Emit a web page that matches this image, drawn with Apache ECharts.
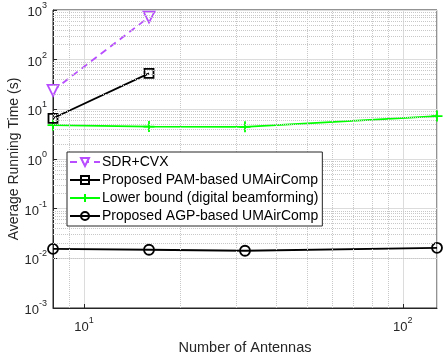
<!DOCTYPE html>
<html>
<head>
<meta charset="utf-8">
<script src="https://cdn.jsdelivr.net/npm/echarts@6/dist/echarts.min.js"></script>
<style>
  html, body { margin: 0; padding: 0; background: #fff; }
  #main { width: 443px; height: 354px; }
</style>
</head>
<body>
<div id="main"></div>
<script>
// values
var antennas = [8, 16, 32, 128];
var sdrCvx = [24, 720];
var pamAir = [6.6, 53];
var lowerBound = [4.8, 4.5, 4.45, 7.3];
var agpAir = [0.0155, 0.0149, 0.0142, 0.0163];

var names = ['SDR+CVX', 'Proposed PAM-based UMAirComp', 'Lower bound (digital beamforming)', 'Proposed AGP-based UMAirComp'];

// minor grid positions (2..9 per decade)
var yMinor = [];
for (var k = -3; k < 3; k++) {
    for (var m = 2; m <= 9; m++) yMinor.push(m * Math.pow(10, k));
}
var xMinor = [9, 20, 30, 40, 50, 60, 70, 80, 90];

function pairs(vals) {
    return vals.map(function (v, i) { return [antennas[i], v]; });
}
function pow10(v) {
    var e = Math.round(Math.log10(v));
    return '{b|10}{s|' + e + '}';
}
var richSup = {
    b: { fontSize: 13, color: '#262626', fontFamily: 'Liberation Sans', lineHeight: 18, verticalAlign: 'bottom' },
    s: { fontSize: 9, color: '#262626', fontFamily: 'Liberation Sans', lineHeight: 18, verticalAlign: 'top', padding: [0, 0, 6, 0] }
};

var plusPath = 'path://M0,5L10,5M5,0L5,10';
var minorLine = { type: 'dotted', color: '#c8c8c8', width: 1 };

var myChart = echarts.init(document.getElementById('main'));
var option = {
    animation: false,
    textStyle: { fontFamily: 'Liberation Sans' },
    grid: { left: 53, right: 6, top: 10, bottom: 46, show: true, borderColor: '#262626', borderWidth: 1, outerBoundsMode: 'none', containLabel: false },
    legend: {
        data: names,
        orient: 'vertical',
        left: 67,
        top: 152,
        z: 20,
        itemGap: 4,
        itemWidth: 30,
        itemHeight: 10,
        padding: [3, 4, 3, 2],
        backgroundColor: '#fff',
        borderColor: '#262626',
        borderWidth: 1,
        borderRadius: 0,
        textStyle: { fontSize: 14, color: '#000', fontFamily: 'Liberation Sans', padding: [0, 0, 0, -3] }
    },
    xAxis: {
        type: 'log',
        logBase: 10,
        min: 8,
        max: 128,
        name: 'Number of Antennas',
        nameLocation: 'middle',
        nameGap: 32,
        nameMoveOverlap: false,
        nameTextStyle: { fontSize: 14.5, color: '#262626' },
        axisLine: { show: true, lineStyle: { color: '#262626' } },
        axisTick: { inside: true, length: 4, lineStyle: { color: '#262626' } },
        axisLabel: { formatter: pow10, rich: richSup, margin: 8, showMinLabel: false, showMaxLabel: false },
        splitLine: { show: true, lineStyle: { color: '#dcdcdc', width: 1 } }
    },
    yAxis: {
        type: 'log',
        logBase: 10,
        min: 0.001,
        max: 1000,
        name: 'Average Running Time (s)',
        nameLocation: 'middle',
        nameGap: 32,
        nameMoveOverlap: false,
        nameTextStyle: { fontSize: 14, color: '#262626' },
        axisLine: { show: true, lineStyle: { color: '#262626' } },
        axisTick: { inside: true, length: 4, lineStyle: { color: '#262626' } },
        axisLabel: { formatter: pow10, rich: richSup, margin: 6 },
        splitLine: { show: true, lineStyle: { color: '#dcdcdc', width: 1 } }
    },
    series: [
        {
            name: 'grid-minor',
            type: 'line',
            data: [],
            silent: true,
            z: 1,
            markLine: {
                silent: true,
                symbol: 'none',
                label: { show: false },
                lineStyle: minorLine,
                data: yMinor.map(function (v) { return { yAxis: v }; })
                    .concat(xMinor.map(function (v) { return { xAxis: v }; }))
            }
        },
        {
            name: names[0],
            type: 'line',
            data: pairs(sdrCvx),
            symbol: 'triangle',
            symbolRotate: 180,
            symbolSize: 11,
            color: '#b84dff',
            lineStyle: { color: '#b84dff', width: 1.8, type: [7, 5] },
            itemStyle: { color: '#fff', borderColor: '#b84dff', borderWidth: 1.8 },
            z: 4
        },
        {
            name: names[1],
            type: 'line',
            data: pairs(pamAir),
            symbol: 'rect',
            symbolSize: 9,
            color: '#000',
            lineStyle: { color: '#000', width: 1.8 },
            itemStyle: { color: 'transparent', borderColor: '#000', borderWidth: 1.8 },
            z: 4
        },
        {
            name: names[2],
            type: 'line',
            data: pairs(lowerBound),
            symbol: plusPath,
            symbolSize: 11,
            color: '#00ff00',
            lineStyle: { color: '#00ff00', width: 1.8 },
            itemStyle: { color: 'transparent', borderColor: '#00ff00', borderWidth: 1.8 },
            z: 3
        },
        {
            name: names[3],
            type: 'line',
            data: pairs(agpAir),
            symbol: 'circle',
            symbolSize: 10,
            color: '#000',
            lineStyle: { color: '#000', width: 1.8 },
            itemStyle: { color: 'transparent', borderColor: '#000', borderWidth: 1.8 },
            z: 4
        }
    ]
};
myChart.setOption(option);
</script>
</body>
</html>
